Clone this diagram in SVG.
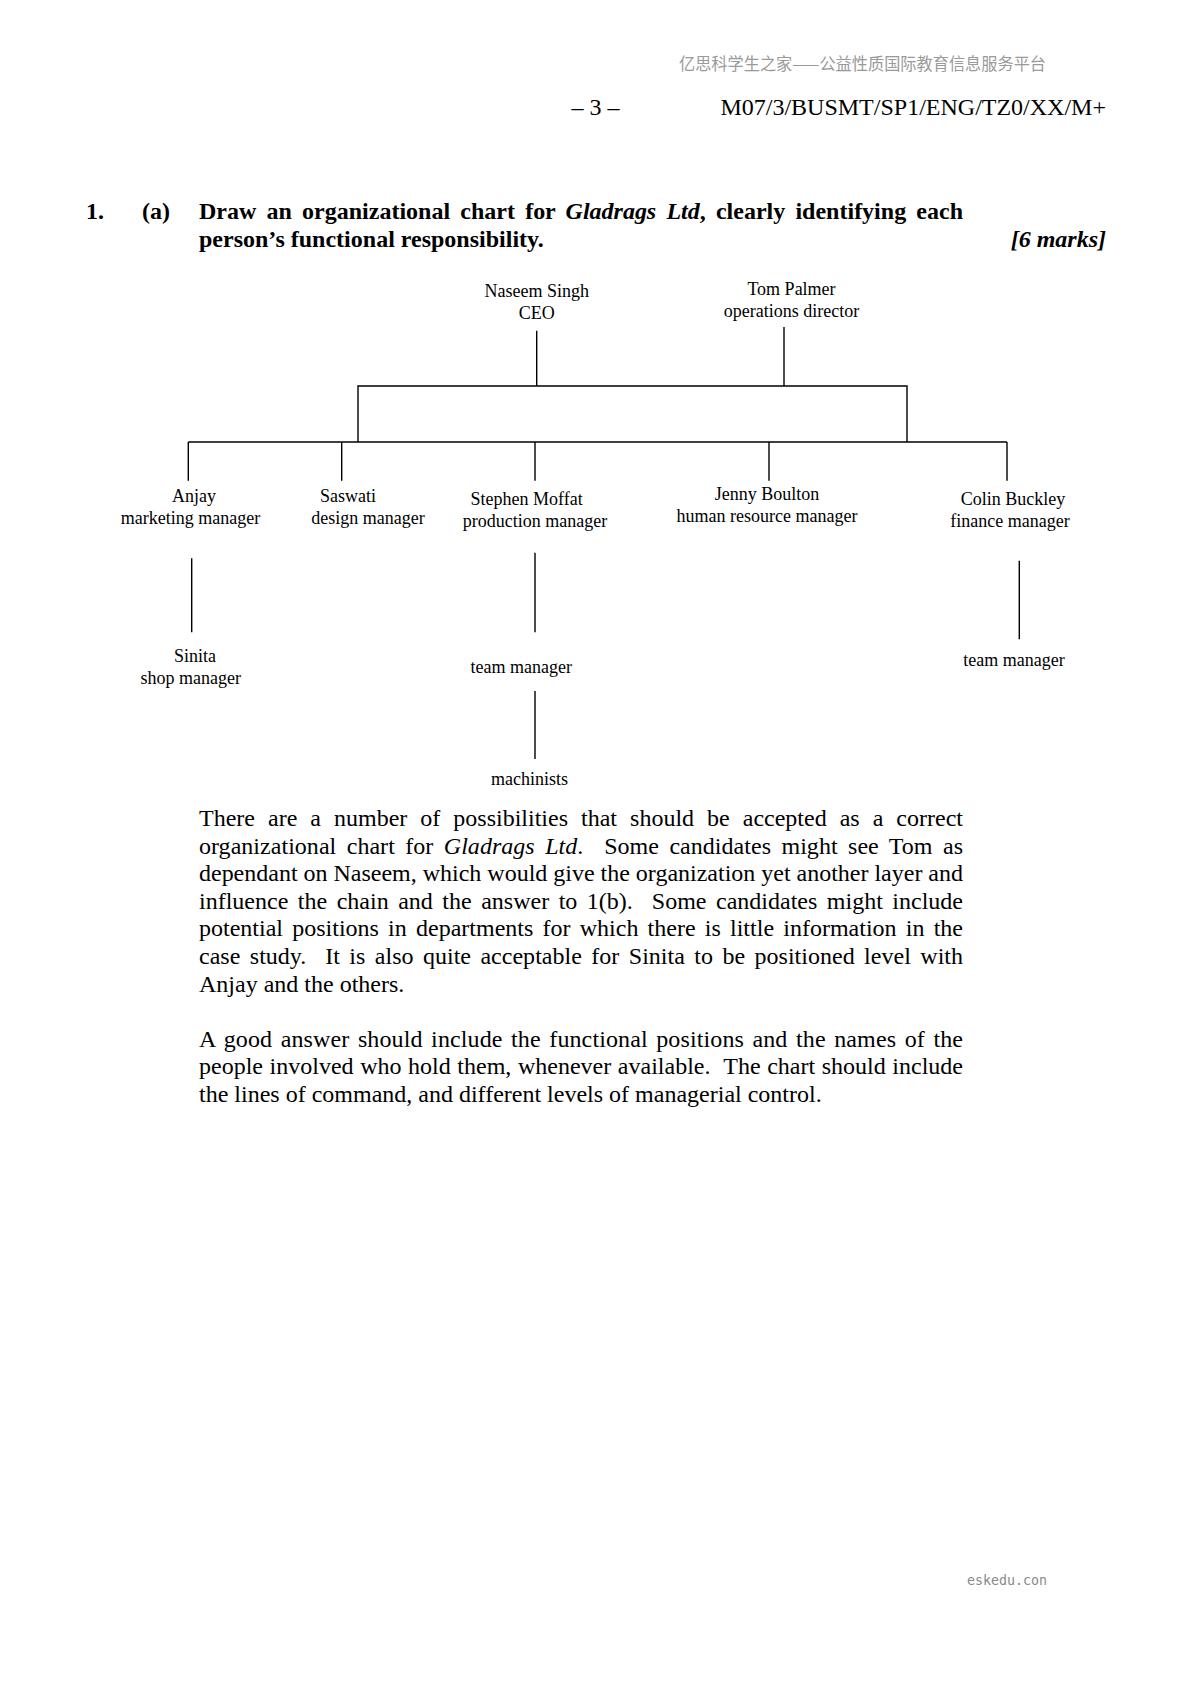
<svg xmlns="http://www.w3.org/2000/svg" width="1191" height="1685" viewBox="0 0 1191 1685">
<style>
.bg{fill:#fff}
.hdr{font-family:"Noto Sans CJK SC","Noto Sans",sans-serif;font-size:16.5px;fill:#9a9a9a}
.wm{font-family:"DejaVu Sans Mono",monospace;font-size:14px;fill:#8a8a8a}
.body{font-family:"Liberation Serif","Times New Roman",serif;font-size:24px;fill:#000}
.b{font-weight:bold}
.i{font-style:italic}
.lbl{font-family:"Liberation Serif","Times New Roman",serif;font-size:18px;fill:#000;text-anchor:middle}
.ln{stroke:#000;stroke-width:1.4;fill:none}
</style>
<rect class="bg" x="0" y="0" width="1191" height="1685"/>

<!-- page header -->
<text class="hdr" x="679" y="70" textLength="367" lengthAdjust="spacingAndGlyphs">亿思科学生之家——公益性质国际教育信息服务平台</text>
<text class="body" x="595.5" y="115" text-anchor="middle">– 3 –</text>
<text class="body" x="1106" y="115" text-anchor="end">M07/3/BUSMT/SP1/ENG/TZ0/XX/M+</text>

<!-- question -->
<text class="body b" x="86" y="219">1.</text>
<text class="body b" x="142" y="219">(a)</text>
<text class="body b" x="199" y="219" word-spacing="4.2" textLength="764" lengthAdjust="spacing">Draw an organizational chart for <tspan class="i">Gladrags Ltd</tspan>, clearly identifying each</text>
<text class="body b" x="199" y="247">person’s functional responsibility.</text>
<text class="body b i" x="1106" y="247" text-anchor="end">[6 marks]</text>

<!-- connectors -->
<g id="connectors">
<line class="ln" x1="536.7" y1="330.7" x2="536.7" y2="386"/>
<line class="ln" x1="784" y1="327" x2="784" y2="386"/>
<path class="ln" d="M358 442 V386 H907 V442"/>
<line class="ln" x1="188.3" y1="442" x2="1007" y2="442"/>
<line class="ln" x1="188.3" y1="442" x2="188.3" y2="480.7"/>
<line class="ln" x1="341.7" y1="442" x2="341.7" y2="480.7"/>
<line class="ln" x1="535" y1="442" x2="535" y2="480.7"/>
<line class="ln" x1="769" y1="442" x2="769" y2="480.7"/>
<line class="ln" x1="1007" y1="442" x2="1007" y2="480.7"/>
<line class="ln" x1="191.7" y1="558.3" x2="191.7" y2="632.3"/>
<line class="ln" x1="535" y1="552.7" x2="535" y2="632.3"/>
<line class="ln" x1="535" y1="691" x2="535" y2="759"/>
<line class="ln" x1="1019.3" y1="560.7" x2="1019.3" y2="639.3"/>
</g>

<!-- nodes -->
<g id="node-naseem">
<text class="lbl" x="536.7" y="296.5">Naseem Singh</text>
<text class="lbl" x="536.7" y="318.5">CEO</text>
</g>
<g id="node-tom">
<text class="lbl" x="791.5" y="294.5">Tom Palmer</text>
<text class="lbl" x="791.5" y="316.5">operations director</text>
</g>
<g id="node-anjay">
<text class="lbl" x="194" y="502">Anjay</text>
<text class="lbl" x="190.5" y="524">marketing manager</text>
</g>
<g id="node-saswati">
<text class="lbl" x="348" y="502">Saswati</text>
<text class="lbl" x="368" y="524">design manager</text>
</g>
<g id="node-stephen">
<text class="lbl" x="526.7" y="505">Stephen Moffat</text>
<text class="lbl" x="535" y="527">production manager</text>
</g>
<g id="node-jenny">
<text class="lbl" x="767" y="499.5">Jenny Boulton</text>
<text class="lbl" x="767" y="521.5">human resource manager</text>
</g>
<g id="node-colin">
<text class="lbl" x="1013" y="505">Colin Buckley</text>
<text class="lbl" x="1010" y="527">finance manager</text>
</g>
<g id="node-sinita">
<text class="lbl" x="195" y="662">Sinita</text>
<text class="lbl" x="190.8" y="684">shop manager</text>
</g>
<g id="node-team-manager-production">
<text class="lbl" x="521.2" y="673">team manager</text>
</g>
<g id="node-machinists">
<text class="lbl" x="529.5" y="785">machinists</text>
</g>
<g id="node-team-manager-finance">
<text class="lbl" x="1014" y="666">team manager</text>
</g>

<!-- answer text -->
<text class="body" x="199" y="826" word-spacing="7" textLength="764" lengthAdjust="spacing">There are a number of possibilities that should be accepted as a correct</text>
<text class="body" x="199" y="853.6" xml:space="preserve" word-spacing="4.4" textLength="764" lengthAdjust="spacing">organizational chart for <tspan class="i">Gladrags Ltd</tspan>.  Some candidates might see Tom as</text>
<text class="body" x="199" y="881.2" textLength="764" lengthAdjust="spacing">dependant on Naseem, which would give the organization yet another layer and</text>
<text class="body" x="199" y="908.8" xml:space="preserve" word-spacing="3.5" textLength="764" lengthAdjust="spacing">influence the chain and the answer to 1(b).  Some candidates might include</text>
<text class="body" x="199" y="936.4" word-spacing="3.2" textLength="764" lengthAdjust="spacing">potential positions in departments for which there is little information in the</text>
<text class="body" x="199" y="964" xml:space="preserve" word-spacing="3.4" textLength="764" lengthAdjust="spacing">case study.  It is also quite acceptable for Sinita to be positioned level with</text>
<text class="body" x="199" y="991.6">Anjay and the others.</text>

<text class="body" x="199" y="1046.8" word-spacing="2.45" textLength="764" lengthAdjust="spacing">A good answer should include the functional positions and the names of the</text>
<text class="body" x="199" y="1074.4" xml:space="preserve" word-spacing="0.55" textLength="764" lengthAdjust="spacing">people involved who hold them, whenever available.  The chart should include</text>
<text class="body" x="199" y="1102">the lines of command, and different levels of managerial control.</text>

<!-- footer watermark -->
<text class="wm" x="967" y="1585" textLength="80" lengthAdjust="spacingAndGlyphs">eskedu.con</text>
</svg>
